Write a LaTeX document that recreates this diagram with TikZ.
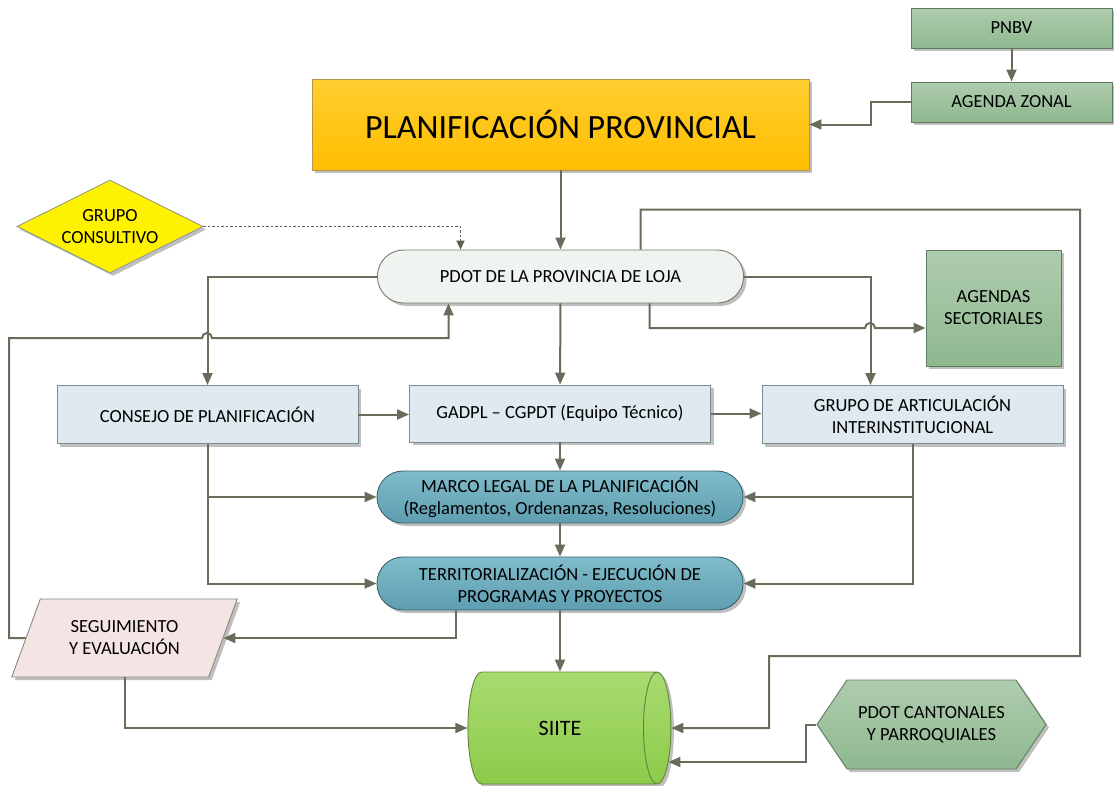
\documentclass[tikz,border=0pt]{standalone}
\usepackage{fontspec}
\setmainfont{Carlito}
\usetikzlibrary{arrows.meta, shapes.geometric, shapes.symbols, shadows}

\definecolor{trazo}{RGB}{105,108,90}
\definecolor{verdearriba}{RGB}{174,204,174}
\definecolor{verdeabajo}{RGB}{143,184,143}
\definecolor{verdeborde}{RGB}{95,122,95}
\definecolor{oroarriba}{RGB}{255,206,48}
\definecolor{oroabajo}{RGB}{255,190,0}
\definecolor{oroborde}{RGB}{180,150,70}
\definecolor{crema}{RGB}{240,244,240}
\definecolor{celeste}{RGB}{222,234,240}
\definecolor{celesteborde}{RGB}{125,140,145}
\definecolor{azularriba}{RGB}{128,188,203}
\definecolor{azulabajo}{RGB}{94,158,176}
\definecolor{azulborde}{RGB}{60,100,110}
\definecolor{rosa}{RGB}{245,228,228}
\definecolor{limaarriba}{RGB}{168,219,112}
\definecolor{limaabajo}{RGB}{140,203,74}
\definecolor{limaborde}{RGB}{100,130,60}

\begin{document}
\begin{tikzpicture}[
    x=1pt, y=-1pt,
    >={Triangle[length=12pt,width=10pt]},
    font=\fontsize{18.5}{22}\selectfont,
    flecha/.style={->, draw=trazo, line width=2pt},
    punteada/.style={->, draw=trazo!90!black, line width=1.8pt, dash pattern=on 2.5pt off 2pt,
        >={Triangle[length=9pt,width=8pt]}},
    sombra/.style={drop shadow={shadow xshift=3pt, shadow yshift=-3pt, opacity=0.25, fill=black}},
    verde/.style={rectangle, draw=verdeborde, line width=0.9pt, top color=verdearriba,
        bottom color=verdeabajo, align=center, sombra},
    celeste/.style={rectangle, draw=celesteborde, line width=0.9pt, fill=celeste,
        align=center, sombra, minimum width=301pt, minimum height=58pt},
    capsula/.style={rectangle, rounded corners=26pt, line width=0.9pt, align=center,
        sombra, minimum width=366pt, minimum height=53pt}
]
\useasboundingbox (0,0) rectangle (1114,785);

% --- nodos ---
\node[verde, minimum width=201pt, minimum height=40pt] (pnbv) at (1011.5,28) {PNBV};
\node[verde, minimum width=201pt, minimum height=40pt] (zonal) at (1011.5,102) {AGENDA ZONAL};
\node[rectangle, draw=oroborde, line width=0.9pt, top color=oroarriba, bottom color=oroabajo,
    minimum width=497pt, minimum height=91pt, sombra, font=\fontsize{34}{40}\selectfont]
    (planif) at (560.5,124.5) {PLANIFICACIÓN PROVINCIAL};
\node[diamond, draw=trazo!70, line width=0.9pt, fill=yellow, aspect=2, inner sep=0pt,
    minimum width=186pt, minimum height=93pt, align=center, sombra]
    (consult) at (110,226.5) {GRUPO\\CONSULTIVO};
\node[capsula, draw=trazo!90, fill=crema] (pdot) at (560.5,276.5) {PDOT DE LA PROVINCIA DE LOJA};
\node[verde, minimum width=135pt, minimum height=116pt] (sector) at (993.5,308) {AGENDAS\\SECTORIALES};

\node[celeste] (consejo) at (207.5,414.5) {CONSEJO DE PLANIFICACIÓN};
\node[celeste, minimum height=57pt] (gadpl) at (560,413.5) {GADPL – CGPDT (Equipo Técnico)};
\node[celeste] (articul) at (912.5,414.5) {GRUPO DE ARTICULACIÓN\\INTERINSTITUCIONAL};

\node[capsula, draw=azulborde, top color=azularriba, bottom color=azulabajo, minimum height=52pt]
    (marco) at (560,497) {MARCO LEGAL DE LA PLANIFICACIÓN\\(Reglamentos, Ordenanzas, Resoluciones)};
\node[capsula, draw=azulborde, top color=azularriba, bottom color=azulabajo]
    (territ) at (560,583.5) {TERRITORIALIZACIÓN - EJECUCIÓN DE\\PROGRAMAS Y PROYECTOS};

\node[trapezium, trapezium left angle=64, trapezium right angle=116, trapezium stretches=true,
    draw=trazo!80, line width=0.9pt, fill=rosa, minimum width=226pt, minimum height=78pt,
    align=center, sombra] (seguim) at (124.5,638) {SEGUIMIENTO\\Y EVALUACIÓN};
\node[cylinder, aspect=1.3, draw=limaborde, line width=0.9pt, top color=limaarriba,
    bottom color=limaabajo, minimum width=112pt, minimum height=203pt, sombra,
    font=\fontsize{22}{26}\selectfont] (siite) at (560,728) {SIITE};
\node[signal, signal to=west and east, signal pointer angle=112, draw=verdeborde, line width=0.9pt,
    top color=verdearriba, bottom color=verdeabajo, minimum width=229pt, minimum height=89pt,
    align=center, sombra] (canton) at (931.5,724.5) {PDOT CANTONALES\\Y PARROQUIALES};

% --- conectores ---
\draw[flecha] (pnbv) -- (zonal);
\draw[flecha] (zonal.west) -- ++(-40,0) |- (planif.east);
\draw[flecha] (planif) -- (pdot);
\draw[punteada] (consult.east) -| ([xshift=-100pt]pdot.north);

\draw[flecha] (pdot.west) -| (consejo.north);
\draw[flecha] (pdot.east) -| ([xshift=-42pt]articul.north);
\draw[flecha] (pdot) -- (gadpl);
\draw[flecha] ([xshift=89pt]pdot.south) |- (865,328) arc[start angle=180, end angle=0, radius=5pt]
    -- ([yshift=-20pt]sector.west);
\draw[flecha] ([xshift=80pt]pdot.north) -- ++(0,-40) -| (1080,656) -| (769,728) -- (siite.east);
\draw[flecha] (seguim.west) -| (9,338) -- (202,338) arc[start angle=180, end angle=0, radius=5pt]
    -- (448.5,338) -- ([xshift=-112pt]pdot.south);

\draw[flecha] (consejo.east) -- (consejo.east -| gadpl.west);
\draw[flecha] (gadpl.east) -- (gadpl.east -| articul.west);
\draw[flecha] (gadpl) -- (marco);
\draw[flecha] (consejo.south) |- (marco.west);
\draw[flecha] (consejo.south) |- (territ.west);
\draw[flecha] (articul.south) |- (marco.east);
\draw[flecha] (articul.south) |- (territ.east);
\draw[flecha] (marco) -- (territ);

\draw[flecha] ([xshift=-104pt]territ.south) |- (seguim.east);
\draw[flecha] (territ.south) -- (territ.south |- siite.north);
\draw[flecha] (seguim.center |- seguim.south) |- (siite.west);
\draw[flecha] (canton.west) -- ++(-10,0) |- ([xshift=-3pt, yshift=-34pt]siite.east);
\end{tikzpicture}
\end{document}
